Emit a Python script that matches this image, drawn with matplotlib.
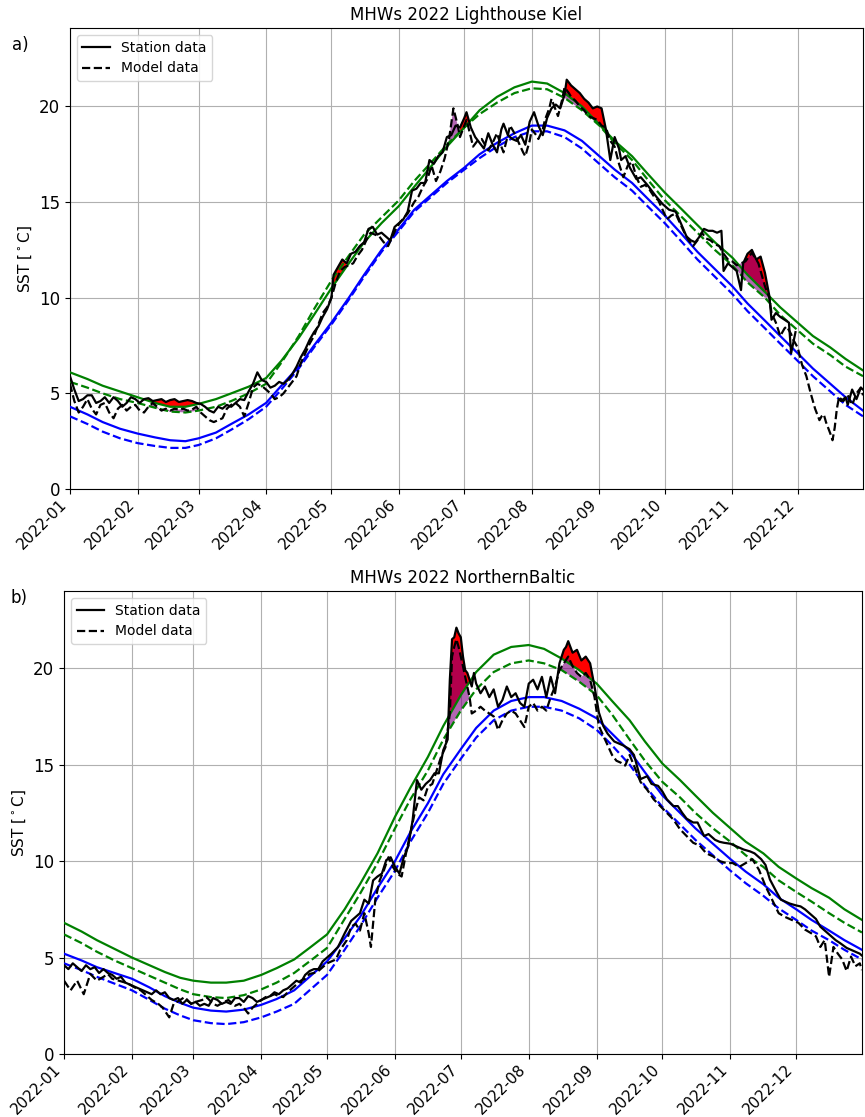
import numpy as np
import matplotlib
matplotlib.use("Agg")
import matplotlib.pyplot as plt
import matplotlib.dates as mdates

nan = np.nan

# ---------------- Lighthouse Kiel ----------------
kiel_station_days = [0, 2, 4, 6, 8, 10, 12, 14, 16, 18, 20, 22, 24, 26, 28, 30, 32, 34, 36, 38, 40, 42, 44, 46, 48,
                     50, 52, 54, 56, 58, 60, 62, 64, 66, 68, 70, 72, 74, 76, 78, 80, 82, 84, 86, 88, 90, 92, 94, 96,
                     98, 100, 102, 104, 106, 108, 110, 112, 114, 116, 118, 120, 121, 123, 125, 127, 129, 131, 133,
                     135, 137, 139, 141, 143, 145, 147, 149, 151, 153, 155, 157, 159, 161, 163, 165, 167, 169, 171,
                     173, 175, 177, 179, 181, 182, 184, 186, 188, 190, 192, 194, 196, 198, 199, 201, 203, 205, 207,
                     209, 211, 213, 215, 217, 219, 221, 223, 225, 227, 228, 230, 232, 234, 236, 238, 240, 242, 244,
                     246, 248, 250, 252, 253, 255, 257, 260, 262, 265, 267, 269, 272, 275, 278, 280, 283, 285, 287,
                     289, 291, 293, 295, 297, 299, 300, 302, 304, 306, 308, 309, 311, 313, 315, 317, 319, 321, 322,
                     324, 326, 328, 330, 331, 333, 343, 353, 354, 356, 357, 359, 361, 363, 364]
kiel_station_sst = [5.9, 5.2, 4.6, 4.7, 4.9, 4.9, 4.5, 4.6, 4.8, 4.5, 4.8, 4.6, 4.3, 4.5, 4.8, 4.7, 4.5, 4.7, 4.75,
                    4.6, 4.65, 4.7, 4.55, 4.65, 4.7, 4.55, 4.6, 4.65, 4.6, 4.5, 4.45, 4.3, 4.1, 4.0, 4.3, 4.2, 4.4,
                    4.3, 4.5, 4.7, 4.65, 5.1, 5.5, 6.1, 5.7, 5.6, 5.3, 5.4, 5.6, 5.5, 5.7, 6.0, 6.4, 6.9, 7.3, 7.8,
                    8.2, 8.5, 9.0, 9.4, 10.0, 11.2, 11.6, 12.0, 11.8, 12.3, 12.4, 12.7, 12.9, 13.6, 13.7, 13.3, 13.4,
                    13.2, 13.0, 13.7, 13.9, 14.1, 14.5, 15.6, 15.7, 16.0, 16.0, 17.2, 17.0, 17.4, 17.6, 18.4, 18.5,
                    19.0, 18.9, 19.4, 19.7, 18.9, 18.4, 18.1, 17.8, 18.6, 18.0, 17.6, 18.8, 19.1, 18.5, 18.3, 18.2,
                    18.5, 18.0, 19.2, 19.7, 19.0, 18.5, 19.4, 19.9, 20.1, 19.9, 20.6, 21.4, 21.1, 20.9, 20.7, 20.4,
                    20.2, 19.9, 20.0, 19.9, 18.8, 17.2, 18.4, 17.8, 17.2, 17.4, 16.8, 16.2, 16.3, 15.9, 15.6, 15.3,
                    14.9, 14.6, 14.5, 14.0, 13.2, 13.0, 12.9, 13.2, 13.6, 13.5, 13.5, 13.4, 13.5, 11.4, 11.8, 11.6,
                    11.4, 10.4, 11.8, 12.3, 12.5, 12.0, 12.15, 11.3, 10.1, 8.85, 9.2, 9.0, 8.85, 8.7, 7.1, 8.2, nan,
                    4.7, 4.6, 4.8, 4.4, 5.2, 4.7, 5.3, 5.2]

kiel_model_days = [0, 2, 4, 6, 8, 10, 12, 14, 16, 18, 20, 22, 24, 26, 28, 30, 32, 34, 36, 38, 40, 42, 44, 46, 48, 50,
                   52, 54, 56, 58, 60, 62, 64, 66, 68, 70, 72, 74, 76, 78, 80, 82, 84, 86, 88, 90, 92, 94, 96, 98,
                   100, 102, 104, 106, 108, 110, 112, 114, 116, 118, 120, 122, 124, 126, 128, 130, 132, 134, 136,
                   138, 140, 142, 144, 146, 148, 150, 152, 155, 158, 160, 162, 164, 166, 168, 170, 172, 174, 176,
                   178, 179, 181, 182, 184, 185, 187, 189, 192, 194, 196, 198, 199, 201, 202, 204, 206, 208, 209,
                   211, 212, 214, 215, 217, 218, 220, 221, 223, 224, 226, 227, 229, 230, 232, 234, 236, 238, 240,
                   242, 244, 246, 248, 250, 252, 254, 256, 258, 260, 262, 264, 266, 268, 270, 272, 274, 276, 278,
                   280, 282, 284, 286, 288, 290, 292, 294, 296, 298, 300, 302, 304, 306, 308, 310, 312, 313, 315,
                   316, 318, 319, 321, 322, 324, 326, 328, 329, 331, 332, 334, 336, 338, 340, 342, 344, 345, 346,
                   347, 349, 350, 351, 352, 353, 355, 357, 359, 361, 363, 364]
kiel_model_sst = [5.5, 4.6, 4.0, 4.3, 4.7, 4.2, 3.9, 4.4, 4.5, 4.0, 3.7, 4.2, 4.4, 4.1, 4.3, 4.4, 4.1, 4.0, 4.3, 4.5,
                  4.3, 4.1, 4.2, 4.1, 4.2, 4.15, 4.2, 4.1, 4.15, 4.3, 4.0, 3.8, 3.6, 3.5, 3.6, 3.7, 4.2, 4.4, 4.5,
                  4.3, 3.8, 4.5, 5.3, 5.5, 5.4, 5.2, 5.0, 4.7, 4.8, 5.0, 5.3, 5.6, 5.9, 6.6, 7.1, 7.6, 8.0, 8.6,
                  9.2, 9.5, 10.0, 10.8, 11.4, 11.6, 11.7, 11.8, 12.2, 12.5, 13.0, 13.4, 13.3, 13.2, 12.9, 12.7,
                  13.2, 13.7, 14.0, 14.4, 15.0, 15.3, 15.8, 16.2, 16.9, 16.1, 16.6, 17.3, 18.3, 19.9, 19.0, 18.4,
                  19.0, 19.3, 18.4, 17.9, 18.2, 18.3, 17.7, 18.1, 18.6, 17.9, 17.6, 18.5, 19.0, 18.6, 18.1, 17.6,
                  17.4, 18.2, 18.8, 18.5, 18.3, 18.8, 19.3, 19.9, 20.4, 19.8, 19.5, 20.4, 21.0, 20.7, 20.5, 20.3,
                  20.0, 19.8, 19.5, 19.4, 19.3, 19.0, 18.9, 18.2, 17.9, 17.0, 16.3, 16.9, 17.1, 16.3, 15.8, 15.9,
                  15.65, 15.3, 15.1, 14.6, 14.1, 14.3, 14.4, 13.9, 13.4, 13.0, 12.7, 13.0, 13.4, 13.1, 13.0, 12.8,
                  12.7, 12.3, 12.0, 11.9, 11.7, 11.8, 11.9, 12.2, 12.35, 12.0, 11.8, 11.0, 10.6, 10.0, 9.2, 8.7,
                  8.0, 8.4, 8.5, 8.1, 7.8, 7.4, 6.5, 5.9, 5.0, 4.2, 3.6, 3.8, 3.9, 3.5, 2.9, 2.55, 3.2, 4.2, 4.8,
                  4.6, 4.9, 4.4, 5.0, 5.3, 4.9]

# smooth climatology / threshold curves, read every ~week
clim_days = [0, 8, 15, 23, 31, 39, 46, 53, 59, 67, 74, 82, 90, 97, 105, 112, 120, 128, 135, 143, 151, 158, 166, 173,
             181, 188, 196, 204, 212, 219, 227, 235, 243, 250, 258, 265, 273, 281, 288, 296, 304, 311, 319, 326,
             334, 341, 349, 356, 364]
kiel_thresh_station = [6.1, 5.75, 5.4, 5.1, 4.8, 4.5, 4.3, 4.3, 4.45, 4.7, 5.0, 5.35, 5.8, 6.7, 7.9, 9.1, 10.5,
                       11.8, 12.9, 13.9, 14.8, 15.8, 16.9, 17.9, 18.9, 19.8, 20.5, 21.0, 21.3, 21.2, 20.7, 20.0,
                       19.05, 18.2, 17.4, 16.5, 15.5, 14.6, 13.8, 12.9, 12.1, 11.2, 10.3, 9.5, 8.7, 8.0, 7.4, 6.8,
                       6.2]
kiel_thresh_model = [5.6, 5.3, 5.0, 4.7, 4.5, 4.25, 4.05, 4.0, 4.1, 4.3, 4.6, 5.0, 5.5, 6.6, 8.0, 9.4, 10.9, 12.2,
                     13.3, 14.2, 15.1, 16.1, 17.1, 18.0, 18.9, 19.6, 20.2, 20.7, 20.95, 20.9, 20.45, 19.8, 19.0,
                     18.1, 17.2, 16.2, 15.1, 14.2, 13.4, 12.5, 11.7, 10.8, 10.0, 9.1, 8.3, 7.6, 7.0, 6.4, 5.9]
kiel_clim_station = [4.3, 3.9, 3.5, 3.15, 2.9, 2.7, 2.55, 2.5, 2.65, 2.95, 3.4, 3.9, 4.5, 5.4, 6.4, 7.5, 8.7, 10.0,
                     11.2, 12.5, 13.6, 14.6, 15.4, 16.1, 16.8, 17.5, 18.1, 18.6, 19.0, 19.0, 18.75, 18.2, 17.4,
                     16.7, 16.0, 15.2, 14.3, 13.3, 12.4, 11.5, 10.6, 9.7, 8.8, 8.0, 7.1, 6.3, 5.5, 4.8, 4.1]
kiel_clim_model = [3.8, 3.4, 3.0, 2.65, 2.4, 2.25, 2.15, 2.15, 2.3, 2.65, 3.1, 3.65, 4.3, 5.2, 6.3, 7.4, 8.6, 9.9,
                   11.1, 12.4, 13.5, 14.5, 15.3, 16.0, 16.7, 17.3, 17.9, 18.4, 18.7, 18.7, 18.4, 17.8, 17.0, 16.3,
                   15.6, 14.8, 13.9, 12.9, 12.0, 11.1, 10.2, 9.3, 8.4, 7.6, 6.7, 5.9, 5.1, 4.4, 3.8]
kiel_station_events = [(28, 60), (121, 128), (178, 184), (224, 247), (309, 320)]
kiel_model_events = [(34, 58), (174, 180), (224, 246), (306, 320)]

# ---------------- Northern Baltic ----------------
nb_station_days = [0, 2, 4, 6, 8, 10, 12, 14, 16, 18, 20, 22, 24, 26, 28, 30, 32, 34, 36, 38, 40, 42, 44, 46, 48, 50,
                   52, 54, 56, 58, 60, 62, 64, 66, 68, 70, 72, 74, 76, 78, 80, 82, 84, 86, 88, 90, 92, 94, 96, 98,
                   100, 102, 104, 106, 108, 110, 112, 114, 116, 118, 120, 122, 125, 128, 131, 133, 135, 137, 139,
                   141, 143, 145, 147, 149, 151, 153, 155, 157, 159, 161, 163, 165, 167, 169, 171, 173, 175, 176,
                   177, 178, 179, 180, 181, 182, 183, 184, 185, 186, 187, 188, 190, 192, 194, 196, 198, 200, 202,
                   204, 206, 208, 210, 212, 214, 216, 218, 220, 222, 224, 226, 228, 229, 230, 232, 234, 236, 238,
                   240, 242, 244, 246, 248, 251, 255, 258, 260, 263, 266, 268, 271, 273, 275, 278, 280, 282, 284,
                   287, 289, 292, 294, 297, 299, 301, 304, 306, 308, 310, 313, 315, 318, 320, 322, 325, 327, 329,
                   331, 334, 336, 338, 340, 343, 345, 347, 350, 352, 354, 357, 359, 361, 363, 364]
nb_station_sst = [4.6, 4.4, 4.7, 4.5, 4.3, 4.6, 4.4, 4.5, 4.2, 4.4, 4.2, 4.1, 3.9, 4.0, 3.7, 3.6, 3.5, 3.4, 3.3, 3.2,
                  3.1, 3.3, 3.1, 3.2, 2.9, 2.8, 2.9, 2.6, 2.8, 2.6, 2.7, 2.5, 2.6, 2.5, 2.9, 2.8, 2.6, 2.7, 2.6,
                  2.9, 2.9, 2.7, 3.0, 2.9, 2.7, 2.8, 2.9, 3.0, 3.2, 3.1, 3.3, 3.4, 3.6, 3.8, 3.7, 4.1, 4.3, 4.4,
                  4.4, 4.8, 5.0, 5.2, 5.55, 6.25, 6.9, 7.1, 7.3, 8.0, 7.8, 9.0, 9.2, 9.35, 10.05, 10.2, 9.7, 9.35,
                  10.2, 10.75, 12.1, 14.2, 13.7, 14.0, 14.2, 14.55, 14.55, 15.75, 16.3, 19.4, 21.5, 21.6, 22.1,
                  21.8, 21.6, 20.6, 19.9, 19.75, 19.4, 19.05, 19.75, 19.2, 18.7, 19.05, 18.5, 18.9, 18.0, 18.35,
                  19.05, 18.5, 18.7, 18.2, 18.0, 19.2, 19.4, 18.9, 19.55, 18.5, 19.55, 18.7, 20.25, 20.95, 21.1,
                  21.4, 20.8, 20.95, 20.4, 20.6, 20.25, 19.05, 17.7, 17.0, 16.6, 16.2, 16.0, 15.8, 15.5, 14.25,
                  14.4, 14.0, 13.9, 13.6, 13.2, 12.85, 12.85, 12.5, 12.2, 12.0, 12.0, 11.3, 11.4, 11.1, 11.0,
                  10.95, 10.9, 10.8, 10.7, 10.6, 10.5, 10.4, 10.1, 9.8, 9.05, 8.4, 8.0, 7.9, 7.8, 7.7, 7.65, 7.5,
                  7.3, 7.0, 6.6, 6.4, 6.1, 5.9, 5.75, 5.5, 5.4, 5.3, 5.2, 5.1]

nb_model_days = [0, 3, 6, 9, 12, 15, 18, 20, 22, 25, 28, 30, 33, 35, 38, 40, 43, 45, 48, 50, 53, 55, 58, 60, 63, 65,
                 68, 70, 73, 75, 78, 80, 82, 84, 86, 88, 90, 92, 94, 96, 98, 100, 102, 104, 106, 108, 110, 112, 114,
                 116, 118, 120, 122, 124, 126, 129, 131, 133, 135, 137, 139, 140, 142, 144, 146, 148, 150, 152, 154,
                 156, 158, 160, 162, 164, 166, 168, 170, 172, 174, 176, 177, 178, 179, 180, 181, 182, 183, 185, 186,
                 188, 190, 192, 194, 196, 198, 200, 202, 204, 206, 208, 210, 212, 214, 216, 218, 220, 222, 224, 226,
                 228, 230, 232, 234, 236, 238, 240, 242, 244, 246, 248, 250, 252, 254, 256, 258, 260, 263, 266, 269,
                 272, 275, 278, 281, 284, 287, 290, 293, 296, 299, 302, 305, 308, 311, 314, 317, 320, 323, 326, 329,
                 332, 335, 338, 341, 343, 345, 347, 349, 351, 353, 355, 357, 359, 361, 363, 364]
nb_model_sst = [3.8, 3.3, 3.8, 3.1, 4.15, 3.8, 4.0, 4.15, 3.9, 3.8, 3.7, 3.6, 3.4, 3.3, 3.0, 2.8, 2.6, 2.4, 1.9, 2.6,
                2.8, 2.95, 2.6, 2.7, 2.8, 2.95, 2.6, 2.5, 2.7, 2.8, 2.5, 2.6, 2.4, 2.1, 2.4, 2.6, 2.8, 2.95, 3.0,
                3.1, 3.0, 2.95, 3.2, 3.4, 3.6, 3.8, 3.9, 4.15, 4.2, 4.3, 4.5, 4.7, 4.8, 4.9, 5.4, 5.9, 6.6, 6.75,
                6.4, 7.3, 6.25, 5.55, 8.0, 9.0, 9.55, 10.2, 9.7, 9.35, 9.2, 10.4, 11.45, 12.5, 13.3, 13.15, 13.85,
                14.0, 14.7, 15.4, 15.9, 17.65, 20.6, 21.1, 21.5, 21.1, 20.6, 20.1, 19.55, 18.5, 17.65, 17.8, 18.0,
                17.8, 17.65, 17.5, 16.8, 17.3, 17.65, 17.8, 17.65, 17.3, 16.95, 18.0, 18.2, 17.8, 18.0, 17.8, 18.5,
                19.05, 19.9, 20.25, 20.6, 20.1, 19.75, 19.55, 19.75, 19.4, 18.5, 17.0, 16.5, 16.0, 15.5, 15.2,
                15.1, 14.95, 15.5, 14.95, 14.1, 13.7, 13.2, 12.85, 12.5, 12.15, 11.65, 11.3, 10.95, 10.8, 10.4,
                10.25, 10.0, 9.9, 9.9, 9.7, 9.9, 10.1, 9.55, 8.7, 8.0, 7.3, 7.1, 6.95, 6.8, 6.45, 6.25, 6.1, 5.55,
                5.9, 4.0, 5.55, 5.2, 4.9, 4.3, 5.05, 4.55, 4.7, 4.35]

nb_thresh_station = [6.8, 6.35, 5.9, 5.45, 5.0, 4.6, 4.25, 3.95, 3.8, 3.7, 3.7, 3.8, 4.1, 4.45, 4.9, 5.5, 6.2, 7.5,
                     8.8, 10.4, 12.3, 13.8, 15.4, 17.0, 18.6, 19.8, 20.7, 21.1, 21.2, 21.0, 20.5, 19.9, 19.2,
                     18.3, 17.3, 16.2, 15.05, 14.2, 13.4, 12.5, 11.7, 11.0, 10.4, 9.7, 9.1, 8.6, 8.1, 7.5, 6.95]
nb_thresh_model = [6.2, 5.75, 5.3, 4.85, 4.45, 4.05, 3.7, 3.35, 3.1, 2.95, 2.9, 3.05, 3.35, 3.7, 4.2, 4.8, 5.5, 7.0,
                   8.3, 9.9, 11.7, 13.2, 14.7, 16.3, 17.8, 18.9, 19.8, 20.25, 20.4, 20.25, 19.9, 19.3, 18.6, 17.6,
                   16.3, 15.2, 14.1, 13.3, 12.5, 11.7, 11.0, 10.3, 9.7, 9.0, 8.4, 7.9, 7.3, 6.8, 6.3]
nb_clim_station = [5.2, 4.85, 4.5, 4.2, 3.9, 3.45, 3.0, 2.65, 2.4, 2.25, 2.2, 2.3, 2.55, 2.85, 3.3, 4.0, 4.8, 6.0,
                   7.1, 8.6, 10.0, 11.5, 13.0, 14.5, 15.8, 16.9, 17.8, 18.3, 18.5, 18.5, 18.3, 17.9, 17.4, 16.6,
                   15.7, 14.6, 13.4, 12.5, 11.7, 10.9, 10.1, 9.45, 8.8, 8.1, 7.5, 6.95, 6.4, 5.9, 5.4]
nb_clim_model = [4.7, 4.35, 4.0, 3.65, 3.3, 2.8, 2.35, 2.0, 1.75, 1.6, 1.55, 1.65, 1.9, 2.2, 2.6, 3.3, 4.1, 5.4, 6.6,
                 8.1, 9.5, 11.0, 12.5, 14.0, 15.3, 16.4, 17.3, 17.8, 18.0, 18.0, 17.8, 17.4, 16.8, 16.0, 15.0,
                 13.9, 12.8, 11.9, 11.1, 10.3, 9.5, 8.85, 8.2, 7.55, 6.95, 6.4, 5.9, 5.4, 4.9]
nb_station_events = [(174, 188), (225, 241)]
nb_model_events = [(174, 188), (225, 242)]

start = np.datetime64('2022-01-01')


def to_dates(days):
    return start + np.asarray(days).astype('timedelta64[D]')


def shade(ax, days, vals, thresh, events, **kw):
    d = np.asarray(days, dtype=float)
    v = np.asarray(vals, dtype=float)
    th = np.interp(d, clim_days, thresh)
    inside = np.zeros(len(d), dtype=bool)
    for a, b in events:
        inside |= (d >= a) & (d <= b)
    ax.fill_between(to_dates(days), v, th, where=inside & (v > th), interpolate=True, lw=0, **kw)


def draw_panel(ax, title, st_days, st, mo_days, mo, th_st, th_mo, cl_st, cl_mo, st_ev, mo_ev, ytop):
    shade(ax, st_days, st, th_st, st_ev, color='red', zorder=2)
    shade(ax, mo_days, mo, th_mo, mo_ev, color='purple', alpha=0.6, zorder=2)

    cd = to_dates(clim_days)
    ax.plot(cd, th_st, color='green', lw=1.6, zorder=3)
    ax.plot(cd, th_mo, color='green', lw=1.6, ls='--', zorder=3)
    ax.plot(cd, cl_st, color='blue', lw=1.6, zorder=3)
    ax.plot(cd, cl_mo, color='blue', lw=1.6, ls='--', zorder=3)
    ax.plot(to_dates(st_days), st, color='black', lw=1.6, label='Station data', zorder=4)
    ax.plot(to_dates(mo_days), mo, color='black', lw=1.6, ls='--', label='Model data', zorder=4)

    ax.set_xlim(np.datetime64('2022-01-01'), np.datetime64('2022-12-31'))
    ax.set_ylim(0, ytop)
    ax.set_yticks([0, 5, 10, 15, 20])
    ax.xaxis.set_major_locator(mdates.MonthLocator())
    ax.xaxis.set_major_formatter(mdates.DateFormatter('%Y-%m'))
    ax.tick_params(axis='y', labelsize=12)
    ax.tick_params(axis='x', labelsize=11, pad=2)
    for lab in ax.get_xticklabels():
        lab.set_rotation(45)
        lab.set_ha('right')
    ax.grid(True, color='#b0b0b0', lw=0.8)
    ax.set_title(title, fontsize=12)
    ax.set_ylabel('SST [$^\\circ$C]', fontsize=11)
    ax.legend(loc='upper left', fontsize=10)


fig = plt.figure(figsize=(8.65, 11.17), dpi=100)
ax1 = fig.add_axes([0.0809, 0.5622, 0.9168, 0.4127])
ax2 = fig.add_axes([0.0740, 0.0564, 0.9225, 0.4145])

draw_panel(ax1, 'MHWs 2022 Lighthouse Kiel', kiel_station_days, kiel_station_sst, kiel_model_days, kiel_model_sst,
           kiel_thresh_station, kiel_thresh_model, kiel_clim_station, kiel_clim_model,
           kiel_station_events, kiel_model_events, 24.1)
draw_panel(ax2, 'MHWs 2022 NorthernBaltic', nb_station_days, nb_station_sst, nb_model_days, nb_model_sst,
           nb_thresh_station, nb_thresh_model, nb_clim_station, nb_clim_model,
           nb_station_events, nb_model_events, 24.0)

fig.text(0.014, 0.955, 'a)', fontsize=12)
fig.text(0.012, 0.460, 'b)', fontsize=12)

fig.savefig('out.png', dpi=100)
